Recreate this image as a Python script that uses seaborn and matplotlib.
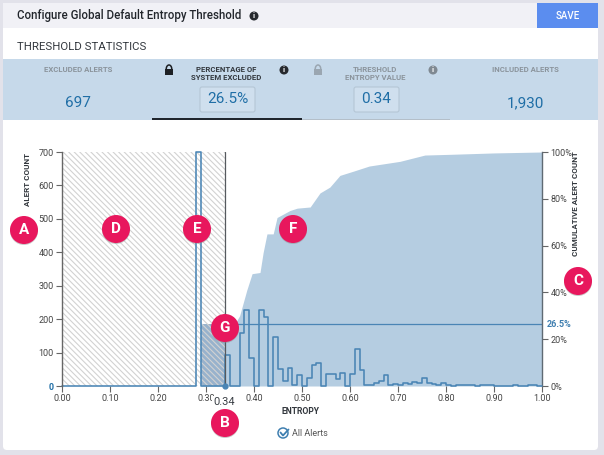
import numpy as np
import pandas as pd
import matplotlib
matplotlib.use("Agg")
import matplotlib.pyplot as plt
from matplotlib.patches import Rectangle, Circle, FancyBboxPatch, Arc
import seaborn as sns

sns.set_theme(style="white")
plt.rcParams['font.family'] = ['Roboto', 'DejaVu Sans']
plt.rcParams['hatch.linewidth'] = 0.8

# ---- data ----
zero_bins = [0] * 28
counts_28_on = [700, 0, 0, 0, 0, 0, 93, 0, 0, 160, 227, 84, 0, 227, 207, 0, 147, 50, 15, 55, 2, 33, 0, 25,
                62, 70, 0, 35, 35, 22, 40, 0, 37, 112, 48, 2, 2, 8, 14, 32, 4, 7, 2, 10, 7, 12, 10, 24, 10, 6, 2, 9,
                2, 1, 2, 4, 4, 2, 1, 3, 3, 3, 1, 1, 1, 1, 2, 1, 1, 2, 2, 1]
counts = zero_bins + counts_28_on
cum_x = [0.29, 0.34, 0.36, 0.37, 0.385, 0.396, 0.4125, 0.419, 0.427, 0.44, 0.448, 0.475, 0.49, 0.517,
         0.5375, 0.558, 0.579, 0.61, 0.64, 0.704, 0.756, 0.808, 0.90, 1.00]
cum_pct = [26.5, 26.5, 26.5, 30, 41, 48, 48.5, 57, 65, 65, 72, 75, 76, 76.5,
           82.5, 85, 90, 92, 94, 96, 98.7, 99, 99.6, 100]
x_ticks = [0.0, 0.1, 0.2, 0.3, 0.4, 0.5, 0.6, 0.7, 0.8, 0.9, 1.0]
y_ticks = [0, 100, 200, 300, 400, 500, 600, 700]
pct_ticks = [0, 20, 40, 60, 80, 100]
threshold = 0.34
threshold_pct = 26.5
badges = [("A", 24, 230), ("B", 225, 423), ("C", 578, 281), ("D", 116, 229),
          ("E", 197, 229), ("F", 293, 229), ("G", 225, 328)]

BLUE = "#4a85b5"
AREA = "#b5cde1"
W, H = 604, 455
fig = plt.figure(figsize=(W / 100, H / 100), dpi=100, facecolor="#e2e2ea")

# ---- page furniture, in pixels ----
ui = fig.add_axes([0, 0, 1, 1], zorder=0)
ui.set_xlim(0, W); ui.set_ylim(H, 0); ui.axis("off")
ui.add_patch(FancyBboxPatch((3, 3), 595, 447, boxstyle="round,pad=0,rounding_size=4", fc="white", ec="none"))
ui.add_patch(Rectangle((3, 3), 595, 25, fc="#f1f1f6", ec="none"))
ui.add_patch(Rectangle((537, 3), 61, 25, fc="#5b8def", ec="none"))
ui.add_patch(Rectangle((3, 59), 595, 61, fc="#c6d9ea", ec="none"))
ui.add_patch(Rectangle((302, 118.5), 148, 1.2, fc="#b4bfc9", ec="none"))
ui.add_patch(Rectangle((152, 118), 150, 2, fc="#20262e", ec="none"))
ui.text(17, 16, "Configure Global Default Entropy Threshold", fontsize=8.3, fontweight="medium", color="#22262c", va="center")
ui.text(568, 16, "SAVE", fontsize=7, fontweight="medium", color="white", ha="center", va="center")
ui.text(17, 47, "THRESHOLD STATISTICS", fontsize=8.2, color="#33383e", va="center")

for cx, lines, col in [(78, ["EXCLUDED ALERTS"], "#8b949c"), (226, ["PERCENTAGE OF", "SYSTEM EXCLUDED"], "#33383e"),
                       (375, ["THRESHOLD", "ENTROPY VALUE"], "#8b949c"), (525, ["INCLUDED ALERTS"], "#8b949c")]:
    for i, s in enumerate(lines):
        ui.text(cx, 69 + 9 * i, s, fontsize=5.6, fontweight="bold", color=col, ha="center", va="center")
for cx, s in [(78, "697"), (525, "1,930")]:
    ui.text(cx, 103, s, fontsize=11, color="#1f6ea6", ha="center", va="center")
for x0, x1, s in [(200, 255, "26.5%"), (354, 399, "0.34")]:
    ui.add_patch(FancyBboxPatch((x0, 87), x1 - x0, 25, boxstyle="round,pad=0,rounding_size=2",
                                fc="#cfdfee", ec="#b5c6d5", lw=0.8))
    ui.text((x0 + x1) / 2, 99, s, fontsize=11, color="#1f6ea6", ha="center", va="center")

def info(x, y, c):
    ui.add_patch(Circle((x, y), 4.5, fc=c, ec="none"))
    ui.text(x, y, "i", fontsize=5.5, fontweight="bold", color="white", ha="center", va="center")
info(254, 16, "#26292e"); info(284, 70, "#26292e"); info(433, 70, "#7f8992")

def lock(x, y, c):
    ui.add_patch(Rectangle((x - 4, y - 1), 8, 6, fc=c, ec="none"))
    ui.add_patch(Arc((x, y - 1), 5.5, 8, theta1=0, theta2=360, ec=c, lw=1.1))
lock(169, 70, "#1d2024"); lock(318, 70, "#9aa6b1")

# ---- chart ----
left, right, top, bottom = 62, 542, 152, 386
rect = [left / W, 1 - bottom / H, (right - left) / W, (bottom - top) / H]
ax = fig.add_axes(rect, zorder=2, facecolor="none")
ax2 = fig.add_axes(rect, zorder=1, facecolor="none")

edges = [round(i * 0.01, 2) for i in range(101)]
df = pd.DataFrame({"entropy": [e + 0.005 for e in edges[:-1]], "count": counts})

ax2.fill_between(cum_x, cum_pct, 0, color=AREA, lw=0)
below = [x for x in cum_x if x <= threshold]
ax2.fill_between(below, [threshold_pct] * len(below), 0, color="#98b2cc", lw=0)
ax2.axvspan(0, threshold, facecolor="none", edgecolor="#d2d2d2", hatch="\\\\\\\\\\\\", lw=0)
ax2.plot([threshold, 1], [threshold_pct, threshold_pct], color=BLUE, lw=0.9)
ax2.set_xlim(0, 1); ax2.set_ylim(0, 100)
ax2.yaxis.tick_right()
ax2.set_yticks(pct_ticks)
ax2.set_yticklabels([f"{p}%" for p in pct_ticks])
ax2.set_xticks([])
ax2.tick_params(axis="y", length=4, width=0.8, color="#666", labelsize=6.5, labelcolor="#444", pad=2, right=True, left=False)
for s in ["left", "top", "bottom"]:
    ax2.spines[s].set_visible(False)
ax2.spines["right"].set_color("#5f6a73"); ax2.spines["right"].set_linewidth(1)

sns.histplot(data=df, x="entropy", weights="count", bins=edges, element="step", fill=False,
             color=BLUE, lw=1.15, ax=ax, clip_on=False)
ax.axvline(threshold, color="#55595e", lw=0.9)
ax.plot([threshold], [0], "o", ms=3.5, color=BLUE, clip_on=False, zorder=5)
ax.set_xlim(0, 1); ax.set_ylim(0, 700)
ax.set_xticks(x_ticks)
ax.set_xticklabels([f"{t:.2f}" for t in x_ticks])
ax.set_yticks(y_ticks)
ax.tick_params(axis="both", length=4, width=0.8, color="#666", labelsize=6.5, labelcolor="#444", pad=2, bottom=True, left=True)
ax.get_yticklabels()[0].set_color("#1f6ea6")
ax.get_yticklabels()[0].set_fontweight("bold")
ax.set_xlabel(""); ax.set_ylabel("")
for s in ["top", "right", "bottom"]:
    ax.spines[s].set_visible(False)
ax.spines["left"].set_color("#666"); ax.spines["left"].set_linewidth(1)

# ---- overlay, in pixels ----
ov = fig.add_axes([0, 0, 1, 1], zorder=3, facecolor="none")
ov.set_xlim(0, W); ov.set_ylim(H, 0); ov.axis("off")
ov.text(28, 180, "ALERT COUNT", rotation=90, fontsize=5.8, fontweight="bold", color="#33383e", ha="center", va="center")
ov.text(576, 204, "CUMULATIVE ALERT COUNT", rotation=90, fontsize=5.8, fontweight="bold", color="#33383e", ha="center", va="center")
ov.text(301, 412, "ENTROPY", fontsize=6.2, fontweight="bold", color="#33383e", ha="center", va="center")
ov.text(547, 324.5, "26.5%", fontsize=6.5, fontweight="bold", color="#3f7fb0", va="center")
ov.text(224, 402, "0.34", fontsize=8, color="#3a3f45", ha="center", va="center",
        bbox=dict(fc="white", ec="none", pad=0.6))
ov.add_patch(Circle((283, 433), 5, fc="none", ec="#3f7fb0", lw=1.1))
ov.plot([280.5, 283, 288.5], [432.5, 435.5, 429.5], color="#3f7fb0", lw=1.3)
ov.text(292, 433.5, "All Alerts", fontsize=6.5, color="#555", va="center")
for s, x, y in badges:
    ov.add_patch(Circle((x, y + 1), 14, fc="#8a8a8a", ec="none", alpha=0.45))
    ov.add_patch(Circle((x, y), 14, fc="#e8175d", ec="none"))
    ov.text(x, y, s, fontsize=11, fontweight="bold", color="white", ha="center", va="center")

fig.savefig("out.png", dpi=100, facecolor=fig.get_facecolor())
